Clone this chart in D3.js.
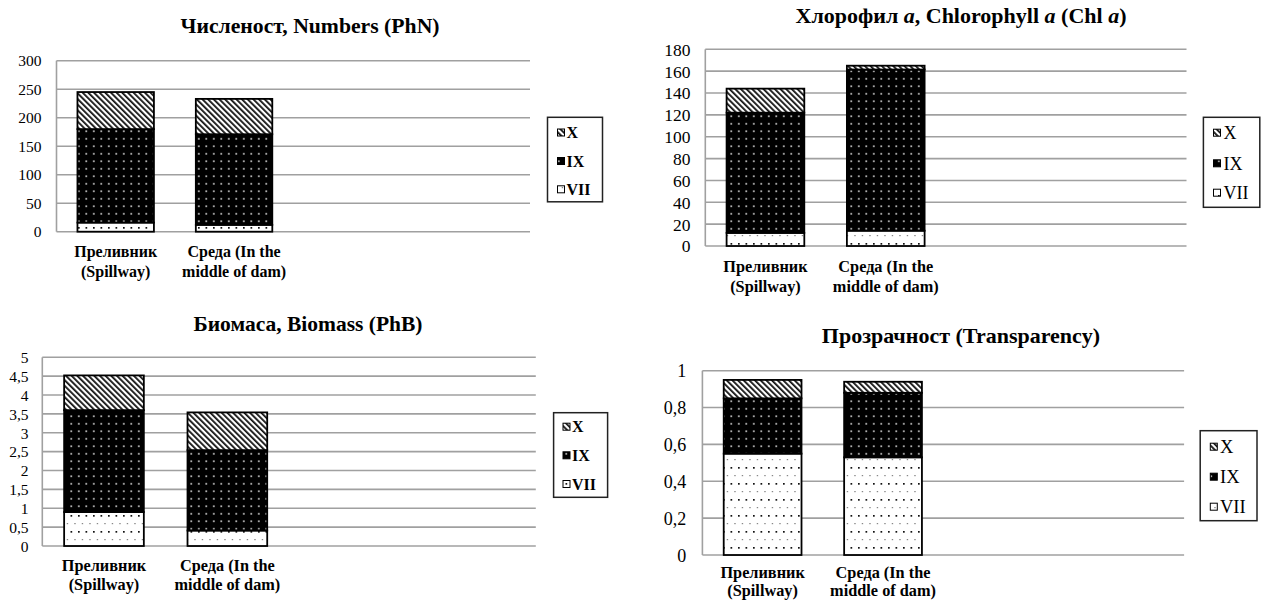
<!DOCTYPE html>
<html><head><meta charset="utf-8">
<script src="https://cdn.jsdelivr.net/npm/d3@7"></script>
<style>
html,body{margin:0;padding:0;background:#fff;}
svg{display:block;}
svg text{font-family:"Liberation Serif","Tinos","Times New Roman","DejaVu Serif",serif;}
</style>
</head><body>
<svg id="c" width="1261" height="601"></svg>
<script>
// ---- data ----
const seriesNames = ["VII", "IX", "X"];
const categoryLines = [["Преливник", "(Spillway)"], ["Среда (In the", "middle of dam)"]];
const slotCount = 4; // axis has two empty category slots after the data

const numbersVII = [16, 12];
const numbersIX = [164, 159];
const numbersX = [65, 62];
const numbersTicks = [0, 50, 100, 150, 200, 250, 300];
const numbersTickLabels = ["0", "50", "100", "150", "200", "250", "300"];

const chlVII = [12, 14];
const chlIX = [110, 147.5];
const chlX = [22, 3.5];
const chlTicks = [0, 20, 40, 60, 80, 100, 120, 140, 160, 180];
const chlTickLabels = ["0", "20", "40", "60", "80", "100", "120", "140", "160", "180"];

const bioVII = [0.9, 0.41];
const bioIX = [2.7, 2.13];
const bioX = [0.92, 1.0];
const bioTicks = [0, 0.5, 1, 1.5, 2, 2.5, 3, 3.5, 4, 4.5, 5];
const bioTickLabels = ["0", "0,5", "1", "1,5", "2", "2,5", "3", "3,5", "4", "4,5", "5"];

const trVII = [0.55, 0.53];
const trIX = [0.30, 0.35];
const trX = [0.10, 0.06];
const trTicks = [0, 0.2, 0.4, 0.6, 0.8, 1];
const trTickLabels = ["0", "0,2", "0,4", "0,6", "0,8", "1"];

// ---- layout ----
const panels = [
  { title: [{t: "Численост, Numbers (PhN)"}], vals: [numbersVII, numbersIX, numbersX],
    ticks: numbersTicks, tickLabels: numbersTickLabels, max: 300,
    titleX: 310, titleY: 33.3, titleSize: 21.7,
    x0: 56.5, x1: 530, yTop: 60.7, yBot: 231.7, tickRight: 41.5, tickSize: 15.5,
    catY: [257, 276.5], catSize: 16,
    leg: {x: 547.5, y: 117.3, w: 55, h: 84.5, ys: [132.5, 161, 189.3], sx: 557.5, tx: 566.5, size: 16, bold: true} },
  { title: [{t: "Хлорофил "}, {t: "a", i: true}, {t: ", Chlorophyll "}, {t: "a", i: true}, {t: " (Chl "}, {t: "a", i: true}, {t: ")"}],
    vals: [chlVII, chlIX, chlX], ticks: chlTicks, tickLabels: chlTickLabels, max: 180,
    titleX: 961, titleY: 22.7, titleSize: 22,
    x0: 705.3, x1: 1186.5, yTop: 49.3, yBot: 246, tickRight: 690.4, tickSize: 17.5,
    catY: [272, 292], catSize: 16.3,
    leg: {x: 1203.4, y: 117.3, w: 56.4, h: 90, ys: [132.7, 163.3, 192.7], sx: 1213.5, tx: 1223.5, size: 18, bold: false} },
  { title: [{t: "Биомаса, Biomass (PhB)"}], vals: [bioVII, bioIX, bioX],
    ticks: bioTicks, tickLabels: bioTickLabels, max: 5,
    titleX: 308, titleY: 331, titleSize: 21.5,
    x0: 42.3, x1: 535.8, yTop: 357.3, yBot: 546, tickRight: 28.5, tickSize: 15.5,
    catY: [571, 590], catSize: 16.3,
    leg: {x: 553.6, y: 412.7, w: 54, h: 84.6, ys: [426.7, 455.3, 484], sx: 563, tx: 572, size: 16, bold: true} },
  { title: [{t: "Прозрачност (Transparency)"}], vals: [trVII, trIX, trX],
    ticks: trTicks, tickLabels: trTickLabels, max: 1,
    titleX: 961, titleY: 343, titleSize: 22,
    x0: 702.4, x1: 1184.1, yTop: 370.7, yBot: 555, tickRight: 686.3, tickSize: 18,
    catY: [578, 595.5], catSize: 16.3,
    leg: {x: 1200.2, y: 430.7, w: 56.8, h: 90, ys: [446.7, 476.7, 506.7], sx: 1210.3, tx: 1220, size: 18.5, bold: false} }
];

const svg = d3.select("#c");
const FONT = "Liberation Serif, Tinos, Times New Roman, DejaVu Serif, serif";
const GRID = "#a0a0a0";

// ---- patterns ----
const defs = svg.append("defs");
// VII: white with small dark dots (staggered)
const pVII = defs.append("pattern").attr("id", "pVII").attr("patternUnits", "userSpaceOnUse")
  .attr("width", 15).attr("height", 16);
pVII.append("rect").attr("width", 15).attr("height", 16).attr("fill", "#fff");
pVII.append("rect").attr("x", 3).attr("y", 3).attr("width", 1.7).attr("height", 1.7).attr("fill", "#111");
pVII.append("rect").attr("x", 10.5).attr("y", 3).attr("width", 1.7).attr("height", 1.7).attr("fill", "#111");
pVII.append("rect").attr("x", 6.75).attr("y", 11).attr("width", 1.4).attr("height", 1.2).attr("fill", "#888");
pVII.append("rect").attr("x", 14.25).attr("y", 11).attr("width", 0.75).attr("height", 1.2).attr("fill", "#888");
pVII.append("rect").attr("x", 0).attr("y", 11).attr("width", 0.7).attr("height", 1.2).attr("fill", "#888");
// IX: black with white dots
const pIX = defs.append("pattern").attr("id", "pIX").attr("patternUnits", "userSpaceOnUse")
  .attr("width", 7.5).attr("height", 7.5);
pIX.append("rect").attr("width", 7.5).attr("height", 7.5).attr("fill", "#000");
pIX.append("rect").attr("x", 3).attr("y", 3).attr("width", 1.6).attr("height", 1.6).attr("fill", "#e0e0e0");
// X: diagonal stripes "\"
const pX = defs.append("pattern").attr("id", "pX").attr("patternUnits", "userSpaceOnUse")
  .attr("width", 4).attr("height", 4).attr("patternTransform", "rotate(-45)");
pX.append("rect").attr("width", 4).attr("height", 4).attr("fill", "#fff");
pX.append("rect").attr("width", 1.8).attr("height", 4).attr("fill", "#111");

const fills = ["url(#pVII)", "url(#pIX)", "url(#pX)"];

panels.forEach((p) => {
  const g = svg.append("g");
  const x = d3.scaleBand().domain(d3.range(slotCount)).range([p.x0, p.x1])
    .paddingInner(0.354).paddingOuter(0.177);
  const y = d3.scaleLinear().domain([0, p.max]).range([p.yBot, p.yTop]);

  // title
  const tt = g.append("text").attr("x", p.titleX).attr("y", p.titleY)
    .attr("text-anchor", "middle").attr("font-family", FONT).attr("font-weight", "bold")
    .attr("font-size", p.titleSize).attr("fill", "#000");
  p.title.forEach(s => tt.append("tspan").attr("font-style", s.i ? "italic" : null).text(s.t));

  // gridlines
  g.selectAll(".grid").data(p.ticks).join("line")
    .attr("x1", p.x0).attr("x2", p.x1)
    .attr("y1", d => y(d)).attr("y2", d => y(d))
    .attr("stroke", GRID).attr("stroke-width", 1.6);
  g.append("line").attr("x1", p.x0).attr("x2", p.x0).attr("y1", p.yTop).attr("y2", p.yBot)
    .attr("stroke", GRID).attr("stroke-width", 1.6);

  // y axis labels
  const yAxis = d3.axisLeft(y).tickValues(p.ticks).tickSize(0)
    .tickFormat((d, i) => p.tickLabels[i]);
  const ya = g.append("g").attr("transform", `translate(${p.tickRight},0)`).call(yAxis);
  ya.attr("font-family", FONT);
  ya.select(".domain").remove();
  ya.selectAll("text").attr("font-family", FONT).attr("font-size", p.tickSize)
    .attr("fill", "#000").attr("x", 0).attr("dy", "0.34em");

  // stacked bars
  const rows = categoryLines.map((c, i) => {
    const r = {i};
    seriesNames.forEach((s, k) => r[s] = p.vals[k][i]);
    return r;
  });
  const stacked = d3.stack().keys(seriesNames)(rows);
  stacked.forEach((layer, k) => {
    g.selectAll(".bar" + k).data(layer).join("rect")
      .attr("x", d => x(d.data.i)).attr("width", x.bandwidth())
      .attr("y", d => y(d[1])).attr("height", d => y(d[0]) - y(d[1]))
      .attr("fill", fills[k]).attr("stroke", "#000").attr("stroke-width", 1.8);
  });

  // category labels
  categoryLines.forEach((lines, i) => {
    const cx = x(i) + x.bandwidth() / 2;
    lines.forEach((ln, j) => {
      g.append("text").attr("x", cx).attr("y", p.catY[j]).attr("text-anchor", "middle")
        .attr("font-family", FONT).attr("font-weight", "bold").attr("font-size", p.catSize)
        .attr("fill", "#000").text(ln);
    });
  });

  // legend
  const L = p.leg;
  g.append("rect").attr("x", L.x).attr("y", L.y).attr("width", L.w).attr("height", L.h)
    .attr("fill", "#fff").attr("stroke", "#222").attr("stroke-width", 1.5);
  const order = [2, 1, 0];
  order.forEach((k, j) => {
    const cy = L.ys[j];
    g.append("rect").attr("x", L.sx).attr("y", cy - 3.5).attr("width", 7).attr("height", 7)
      .attr("fill", fills[k]).attr("stroke", "#000").attr("stroke-width", 1);
    g.append("text").attr("x", L.tx).attr("y", cy).attr("dy", "0.35em")
      .attr("font-family", FONT).attr("font-weight", L.bold ? "bold" : "normal")
      .attr("font-size", L.size).attr("fill", "#000").text(seriesNames[k]);
  });
});
</script>
</body></html>
